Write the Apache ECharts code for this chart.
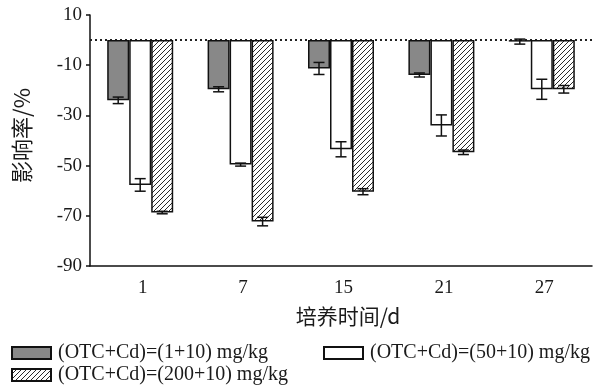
<!DOCTYPE html>
<html>
<head>
<meta charset="utf-8">
<script src="https://cdn.jsdelivr.net/npm/echarts@6/dist/echarts.min.js"></script>
<style>
html,body{margin:0;padding:0;background:#fff;}
#chart{width:606px;height:389px;}
</style>
</head>
<body>
<div id="chart"></div>
<script>
// ---- data ----
const categories = ['1', '7', '15', '21', '27'];
const seriesNames = ['(OTC+Cd)=(1+10) mg/kg', '(OTC+Cd)=(50+10) mg/kg', '(OTC+Cd)=(200+10) mg/kg'];
const lowValues = [-24.0, -19.6, -11.3, -13.9, -0.6];
const lowErrors = [1.3, 1.0, 2.4, 0.8, 1.0];
const midValues = [-57.7, -49.6, -43.5, -34.0, -19.6];
const midErrors = [2.5, 0.6, 3.0, 4.2, 4.0];
const highValues = [-68.7, -72.3, -60.4, -44.7, -19.6];
const highErrors = [0.5, 1.7, 1.2, 0.9, 1.5];
const yTickLabels = [-90, -70, -50, -30, -10, 10];

// ---- styles ----
const BAR_W = 22;
const serif = '"Liberation Serif", "DejaVu Serif", serif';
const cjk = '"Noto Sans CJK SC", "Noto Sans", sans-serif';
const ink = '#1a1a1a';

function hatchPattern() {
  const s = 5;
  const c = document.createElement('canvas');
  c.width = s; c.height = s;
  const g = c.getContext('2d');
  g.fillStyle = '#ffffff';
  g.fillRect(0, 0, s, s);
  g.strokeStyle = '#2a2a2a';
  g.lineWidth = 1;
  g.beginPath();
  g.moveTo(-1, s + 1); g.lineTo(s + 1, -1);
  g.moveTo(-1, 1); g.lineTo(1, -1);
  g.moveTo(s - 1, s + 1); g.lineTo(s + 1, s - 1);
  g.stroke();
  return c;
}

const valueSets = [lowValues, midValues, highValues];
const errorSets = [lowErrors, midErrors, highErrors];
const fills = ['#888888', '#ffffff', { image: hatchPattern(), repeat: 'repeat' }];

const series = [];
valueSets.forEach((vals, i) => {
  const s = {
    name: seriesNames[i],
    type: 'bar',
    data: vals,
    barWidth: BAR_W,
    barGap: '0%',
    itemStyle: { color: fills[i], borderColor: '#111', borderWidth: 1.5 },
    z: 2
  };
  if (i === 0) {
    s.markLine = {
      silent: true,
      symbol: 'none',
      label: { show: false },
      lineStyle: { type: [2, 3], color: '#222', width: 1.8 },
      data: [{ yAxis: 0 }],
      z: 1
    };
  }
  series.push(s);
});

valueSets.forEach((vals, i) => {
  series.push({
    type: 'custom',
    data: vals.map((v, k) => [k, v, errorSets[i][k]]),
    encode: { x: 0, y: 1 },
    z: 5,
    silent: true,
    renderItem: function (params, api) {
      const k = api.value(0), v = api.value(1), e = api.value(2);
      const off = (i - 1) * BAR_W;
      const top = api.coord([k, v + e]);
      const bot = api.coord([k, v - e]);
      const x = top[0] + off;
      const cw = 5.5;
      const st = { stroke: '#111', lineWidth: 1.5 };
      return {
        type: 'group',
        children: [
          { type: 'line', shape: { x1: x, y1: top[1], x2: x, y2: bot[1] }, style: st },
          { type: 'line', shape: { x1: x - cw, y1: top[1], x2: x + cw, y2: top[1] }, style: st },
          { type: 'line', shape: { x1: x - cw, y1: bot[1], x2: x + cw, y2: bot[1] }, style: st }
        ]
      };
    }
  });
});

const legendBase = {
  icon: 'rect',
  itemWidth: 39,
  itemHeight: 12,
  padding: 0,
  orient: 'horizontal',
  textStyle: { fontFamily: serif, fontSize: 20, color: ink, padding: [0, 0, 0, 2] },
  selectedMode: false
};

const option = {
  animation: false,
  backgroundColor: '#fff',
  grid: { left: 90, right: 14, top: 15, bottom: 123 },
  legend: [
    Object.assign({}, legendBase, { data: [seriesNames[0]], left: 11, top: 343 }),
    Object.assign({}, legendBase, { data: [seriesNames[1]], left: 323, top: 343 }),
    Object.assign({}, legendBase, { data: [seriesNames[2]], left: 11, top: 365 })
  ],
  xAxis: {
    type: 'category',
    data: categories,
    name: '培养时间/d',
    nameLocation: 'middle',
    nameGap: 40,
    nameTextStyle: { fontFamily: cjk, fontSize: 21, color: ink, padding: [0, 0, 0, 14] },
    axisLine: { onZero: false, lineStyle: { color: '#111', width: 1.5 } },
    axisTick: { show: false },
    axisLabel: { fontFamily: serif, fontSize: 19, color: ink, margin: 13, padding: [0, 0, 0, 5] },
  },
  yAxis: {
    type: 'value',
    min: -90,
    max: 10,
    interval: 10,
    name: '影响率/%',
    nameLocation: 'middle',
    nameRotate: 90,
    nameGap: 57,
    nameTextStyle: { fontFamily: cjk, fontSize: 22, color: ink, padding: [0, 0, 0, 10] },
    axisLine: { show: true, lineStyle: { color: '#111', width: 1.5 } },
    axisTick: { show: true, length: 4, customValues: yTickLabels, lineStyle: { color: '#111', width: 1.5 } },
    axisLabel: { fontFamily: serif, fontSize: 19, color: ink, margin: 8, customValues: yTickLabels },
    splitLine: { show: false }
  },
  series: series
};

const chart = echarts.init(document.getElementById('chart'), null, { renderer: 'canvas' });
chart.setOption(option);
</script>
</body>
</html>
